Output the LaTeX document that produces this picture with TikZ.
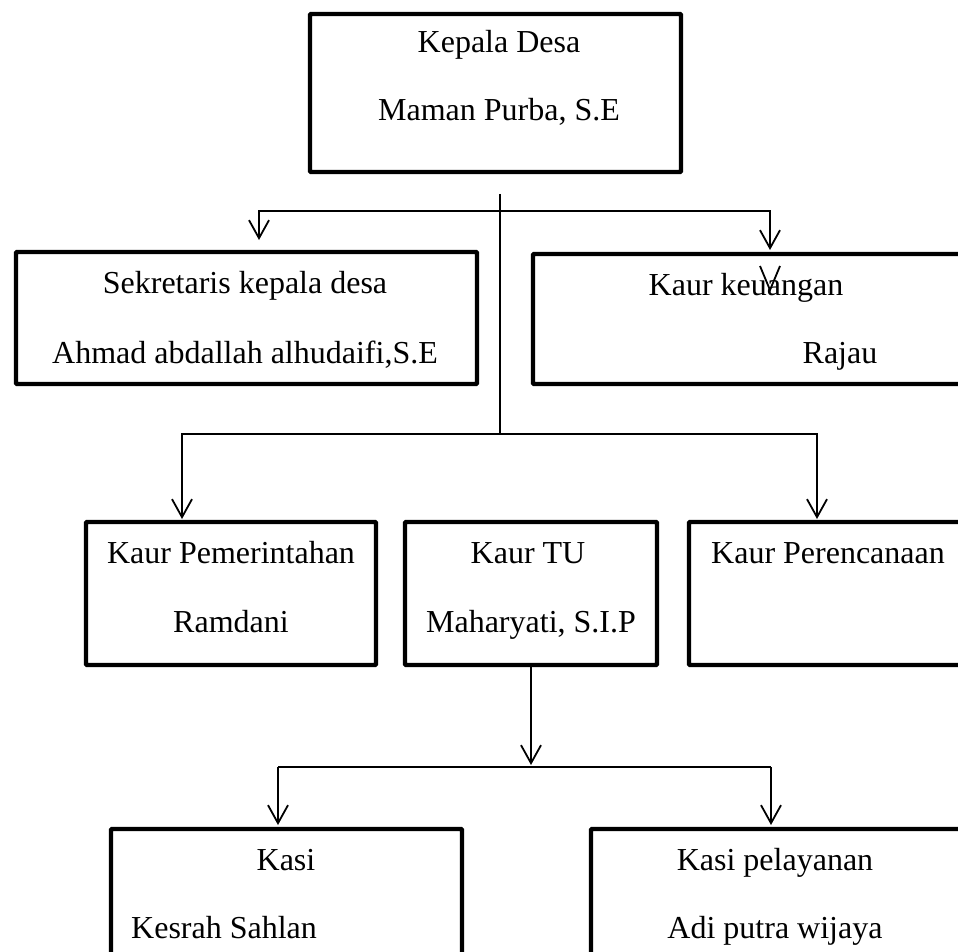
\documentclass[tikz,border=0pt]{standalone}
\usepackage{fontspec}
\setmainfont{Liberation Serif}
\usetikzlibrary{arrows.meta}
\begin{document}
\begin{tikzpicture}[x=1pt,y=-1pt,
 box/.style={draw, line width=4.3pt, rounded corners=1pt, inner sep=0pt, outer sep=0pt, anchor=north west},
 lbl/.style={inner sep=0pt, anchor=base, font=\fontsize{32}{38}\selectfont},
 conn/.style={line width=1.7pt},
 arr/.style={conn, -{Straight Barb[length=18pt,width=20pt,line width=1.8pt]}}
]
\useasboundingbox (0,0) rectangle (958,952);
\clip (0,0) rectangle (958,952);
% boxes
\node[box, minimum width=371pt, minimum height=158pt] (kd) at (310,14) {};
\node[box, minimum width=461pt, minimum height=132pt] (sek) at (16,252) {};
\node[box, minimum width=442pt, minimum height=130pt] (keu) at (533,254) {};
\node[box, minimum width=290pt, minimum height=143pt] (pem) at (86,522) {};
\node[box, minimum width=252pt, minimum height=143pt] (tu) at (405,522) {};
\node[box, minimum width=286pt, minimum height=143pt] (per) at (689,522) {};
\node[box, minimum width=351pt, minimum height=146pt] (kasi) at (111,829) {};
\node[box, minimum width=384pt, minimum height=146pt] (pel) at (591,829) {};
% labels
\node[lbl] (kd1) at (499,53) {Kepala Desa};
\node[lbl] (kd2) at (499,121) {Maman Purba, S.E};
\node[lbl] (sek1) at (245,293) {Sekretaris kepala desa};
\node[lbl] (sek2) at (245,363) {Ahmad abdallah alhudaifi,S.E};
\node[lbl] (keu1) at (746,295) {Kaur keuangan};
\node[lbl] (keu2) at (840,363) {Rajau};
\node[lbl] (pem1) at (231,563) {Kaur Pemerintahan};
\node[lbl] (pem2) at (231,632) {Ramdani};
\node[lbl] (tu1) at (528,563) {Kaur TU};
\node[lbl] (tu2) at (531,632) {Maharyati, S.I.P};
\node[lbl] (per1) at (828,563) {Kaur Perencanaan};
\node[lbl] (kasi1) at (286,870) {Kasi};
\node[lbl, anchor=base west] (kasi2) at (131,938) {Kesrah Sahlan};
\node[lbl] (pel1) at (775,870) {Kasi pelayanan};
\node[lbl] (pel2) at (775,938) {Adi putra wijaya};
% connector points
\coordinate (t0) at (500,194);
\coordinate (j1) at (500,211);
\coordinate (j2) at (500,434);
\coordinate (a1) at (259,240);
\coordinate (a2) at (770,250);
\coordinate (a3) at (182,519);
\coordinate (a4) at (817,519);
\coordinate (tub) at (531,667);
\coordinate (a5) at (531,765);
\coordinate (h1) at (278,767);
\coordinate (h2) at (771,767);
\coordinate (a6) at (278,825);
\coordinate (a7) at (771,825);
\coordinate (v1) at (760,266);
\coordinate (v2) at (770,290);
\coordinate (v3) at (780,266);
% connectors
\draw[conn] (t0) -- (j2);
\draw[arr] (j1) -| (a1);
\draw[arr] (j1) -| (a2);
\draw[conn, line width=1.8pt] (v1) -- (v2) -- (v3);
\draw[arr] (j2) -| (a3);
\draw[arr] (j2) -| (a4);
\draw[arr] (tub) -- (a5);
\draw[conn] (h1) -- (h2);
\draw[arr] (h1) -- (a6);
\draw[arr] (h2) -- (a7);
\end{tikzpicture}
\end{document}
